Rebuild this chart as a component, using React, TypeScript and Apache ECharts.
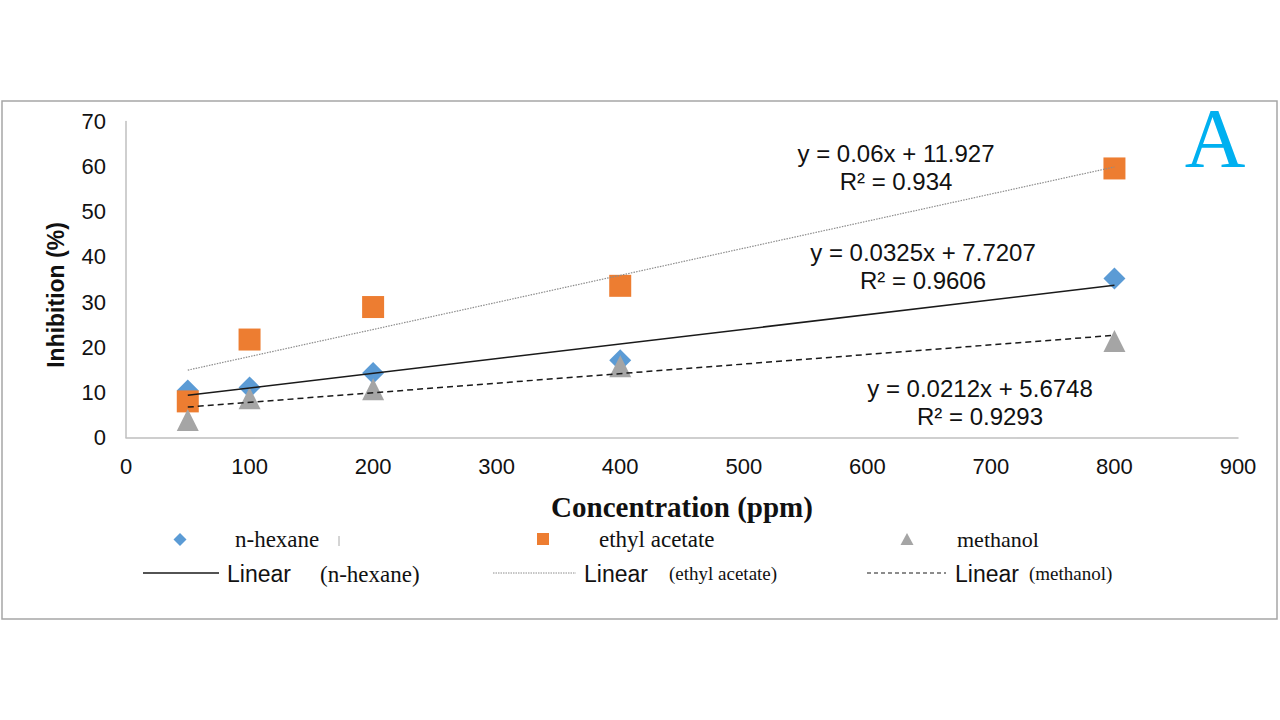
import React, { useEffect, useRef } from "react";
import * as echarts from "echarts";

const concentrations = [50, 100, 200, 400, 800];
const nHexane = [10.4, 11.1, 14.3, 17.1, 35.2];
const ethylAcetate = [8.0, 21.7, 28.9, 33.6, 59.6];
const methanol = [3.9, 8.7, 10.7, 15.8, 21.4];

const seriesNames = ["n-hexane", "ethyl acetate", "methanol"];
const trendSlopes = [0.0325, 0.06, 0.0212];
const trendIntercepts = [7.7207, 11.927, 5.6748];
const trendRange = [50, 800];
const equationLines = [
  ["y = 0.0325x + 7.7207", "R² = 0.9606"],
  ["y = 0.06x + 11.927", "R² = 0.934"],
  ["y = 0.0212x + 5.6748", "R² = 0.9293"],
];

const COLORS = ["#5B9BD5", "#ED7D31", "#A5A5A5"];
const SANS = "'Liberation Sans', Arial, sans-serif";
const SERIF = "'Liberation Serif', 'Times New Roman', serif";

export default function App() {
  const ref = useRef<HTMLDivElement>(null);

  useEffect(() => {
    if (!ref.current) return;
    const chart = echarts.init(ref.current, null, { renderer: "svg" });

    const values = [nHexane, ethylAcetate, methanol];
    const symbols = ["diamond", "rect", "triangle"];

    const scatterSeries = values.map((vals, i) => ({
      name: seriesNames[i],
      type: "scatter",
      symbol: symbols[i],
      symbolSize: 22,
      itemStyle: { color: COLORS[i], opacity: 1 },
      data: concentrations.map((c, k) => [c, vals[k]]),
      z: 2 + i,
    }));

    const lineStyles = [
      { color: "#1a1a1a", width: 1.5, type: "solid" },
      { color: "#8c8c8c", width: 1.2, type: [1.5, 1.2] },
      { color: "#1a1a1a", width: 1.5, type: [6, 4] },
    ];

    const trendSeries = trendSlopes.map((m, i) => ({
      name: "Linear (" + seriesNames[i] + ")",
      type: "line",
      symbol: "none",
      lineStyle: lineStyles[i],
      data: trendRange.map((x) => [x, m * x + trendIntercepts[i]]),
      z: 10,
    }));

    const eqPos = [
      [923, 252, 280],
      [896, 153, 181],
      [980, 388, 416],
    ];
    const eqGraphics: any[] = [];
    equationLines.forEach((lines, i) => {
      lines.forEach((t, j) => {
        eqGraphics.push({
          type: "text",
          x: eqPos[i][0],
          y: eqPos[i][1 + j],
          style: {
            text: t,
            font: `24px ${SANS}`,
            fill: "#111",
            textAlign: "center",
            textVerticalAlign: "middle",
          },
          z: 20,
        });
      });
    });

    const txt = (text: string, x: number, y: number, font: string, extra: any = {}) => ({
      type: "text",
      x,
      y,
      style: { text, font, fill: "#111", textAlign: "left", textVerticalAlign: "middle" },
      z: 20,
      ...extra,
    });

    const legendGraphics: any[] = [
      {
        type: "polygon",
        shape: { points: [[180, 533], [186.5, 539.5], [180, 546], [173.5, 539.5]] },
        style: { fill: COLORS[0] },
      },
      { type: "rect", shape: { x: 537, y: 533, width: 12, height: 12 }, style: { fill: COLORS[1] } },
      {
        type: "polygon",
        shape: { points: [[907, 533], [913.5, 545], [900.5, 545]] },
        style: { fill: COLORS[2] },
      },
      txt("n-hexane", 235, 539, `23px ${SERIF}`),
      { type: "line", shape: { x1: 339, y1: 536, x2: 339, y2: 546 }, style: { stroke: "#aaa", lineWidth: 1 } },
      txt("ethyl acetate", 599, 539, `23px ${SERIF}`),
      txt("methanol", 957, 539, `22px ${SERIF}`),
      { type: "line", shape: { x1: 143, y1: 573, x2: 219, y2: 573 }, style: { stroke: "#1a1a1a", lineWidth: 1.5 } },
      txt("Linear", 227, 574, `23px ${SANS}`),
      txt("(n-hexane)", 320, 574, `23px ${SERIF}`),
      {
        type: "line",
        shape: { x1: 493, y1: 573, x2: 576, y2: 573 },
        style: { stroke: "#8c8c8c", lineWidth: 1, lineDash: [1.5, 1] },
      },
      txt("Linear", 584, 574, `23px ${SANS}`),
      txt("(ethyl acetate)", 669, 573, `19px ${SERIF}`),
      {
        type: "line",
        shape: { x1: 867, y1: 573, x2: 946, y2: 573 },
        style: { stroke: "#1a1a1a", lineWidth: 1.2, lineDash: [4, 3] },
      },
      txt("Linear", 955, 574, `23px ${SANS}`),
      txt("(methanol)", 1029, 573, `19px ${SERIF}`),
    ];

    const option: any = {
      animation: false,
      backgroundColor: "#ffffff",
      grid: { left: 126, right: 42, top: 121.5, bottom: 282.5, containLabel: false },
      xAxis: {
        type: "value",
        min: 0,
        max: 900,
        interval: 100,
        axisLine: { show: true, lineStyle: { color: "#BFBFBF", width: 1.5 } },
        axisTick: { show: false },
        splitLine: { show: false },
        axisLabel: { fontSize: 22, color: "#111", fontFamily: SANS, margin: 18 },
        name: "Concentration (ppm)",
        nameLocation: "middle",
        nameGap: 55,
        nameTextStyle: { fontSize: 29, fontWeight: "bold", fontFamily: SERIF, color: "#111" },
      },
      yAxis: {
        type: "value",
        min: 0,
        max: 70,
        interval: 10,
        axisLine: { show: true, lineStyle: { color: "#BFBFBF", width: 1.5 } },
        axisTick: { show: false },
        splitLine: { show: false },
        axisLabel: { fontSize: 22, color: "#111", fontFamily: SANS, margin: 20 },
      },
      series: [...scatterSeries, ...trendSeries],
      graphic: [
        {
          type: "rect",
          shape: { x: 2, y: 101, width: 1275, height: 518 },
          style: { fill: "none", stroke: "#A6A6A6", lineWidth: 1.5 },
          z: -1,
        },
        {
          type: "text",
          x: 56,
          y: 295,
          rotation: Math.PI / 2,
          style: {
            text: "Inhibition (%)",
            font: `bold 23px ${SANS}`,
            fill: "#111",
            textAlign: "center",
            textVerticalAlign: "middle",
          },
          z: 20,
        },
        {
          type: "text",
          x: 1215,
          y: 138,
          style: {
            text: "A",
            font: `84px ${SERIF}`,
            fill: "#00B0F0",
            textAlign: "center",
            textVerticalAlign: "middle",
          },
          z: 20,
        },
        ...eqGraphics,
        ...legendGraphics,
      ],
    };

    chart.setOption(option);
    return () => chart.dispose();
  }, []);

  return (
    <div
      ref={ref}
      style={{ position: "absolute", left: 0, top: 0, width: 1280, height: 720, background: "#fff" }}
    />
  );
}
